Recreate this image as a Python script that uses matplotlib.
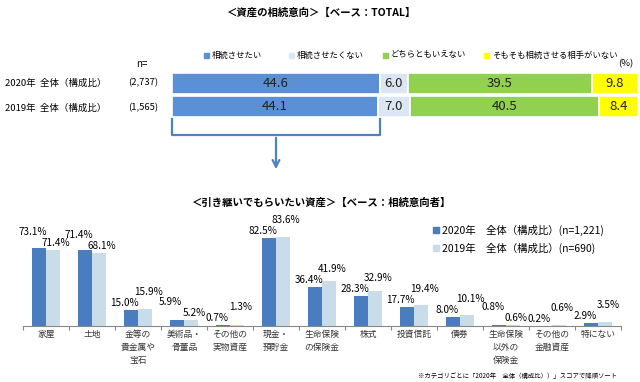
import matplotlib.pyplot as plt
import matplotlib.patches as mpatches
from matplotlib.lines import Line2D
import numpy as np

plt.rcParams['font.family'] = ['Noto Sans CJK JP', 'DejaVu Sans']

# top chart data
rows = ["2020年  全体（構成比）", "2019年  全体（構成比）"]
row_n = ["(2,737)", "(1,565)"]
segments = ["相続させたい", "相続させたくない", "どちらともいえない", "そもそも相続させる相手がいない"]
share_2020 = [44.6, 6.0, 39.5, 9.8]
share_2019 = [44.1, 7.0, 40.5, 8.4]

# bottom chart data
assets = ["家屋", "土地", "金等の\n貴金属や\n宝石", "美術品・\n骨董品", "その他の\n実物資産",
          "現金・\n預貯金", "生命保険\nの保険金", "株式", "投資信託", "債券",
          "生命保険\n以外の\n保険金", "その他の\n金融資産", "特にない"]
want_2020 = [73.1, 71.4, 15.0, 5.9, 0.7, 82.5, 36.4, 28.3, 17.7, 8.0, 0.8, 0.2, 2.9]
want_2019 = [71.4, 68.1, 15.9, 5.2, 1.3, 83.6, 41.9, 32.9, 19.4, 10.1, 0.6, 0.6, 3.5]
series_names = ["2020年　全体（構成比）(n=1,221)", "2019年　全体（構成比）(n=690)"]

seg_colors = ["#5b8fd6", "#dce6f2", "#92d050", "#ffff00"]
dark = "#4a7cc0"
light = "#c8dcea"
arrow_col = "#4f81bd"

W, H = 640, 382
fig = plt.figure(figsize=(W / 100, H / 100), dpi=100)


def fx(x):
    return x / W


def fy(y):
    return 1 - y / H


def px_axes(left, top, right, bottom):
    return fig.add_axes([fx(left), fy(bottom), (right - left) / W, (bottom - top) / H])


# titles
fig.text(fx(322), fy(13), "＜資産の相続意向＞【ベース：TOTAL】", ha='center', va='center',
         fontsize=7.5, fontweight='bold')
fig.text(fx(322), fy(203), "＜引き継いでもらいたい資産＞【ベース：相続意向者】", ha='center', va='center',
         fontsize=7.5, fontweight='bold')

# ---- top stacked bar ----
ax1 = px_axes(172, 72, 638, 118)
all_shares = [share_2020, share_2019]
for r, vals in enumerate(all_shares):
    left = 0
    for k, v in enumerate(vals):
        ax1.barh(r, v, left=left, height=0.87, color=seg_colors[k], edgecolor='white', linewidth=1.2)
        ax1.text(left + v / 2, r, f"{v:.1f}", ha='center', va='center', fontsize=9.5, color='#222222')
        left += v
ax1.set_xlim(0, 100)
ax1.set_ylim(1.5, -0.5)
ax1.axis('off')

for r, (lab, n) in enumerate(zip(rows, row_n)):
    yy = 83 + r * 25
    fig.text(fx(5), fy(yy), lab, ha='left', va='center', fontsize=6.8)
    fig.text(fx(143), fy(yy), n, ha='center', va='center', fontsize=6.8)
fig.text(fx(142), fy(64), "n=", ha='center', va='center', fontsize=7)
fig.text(fx(626), fy(64), "(%)", ha='center', va='center', fontsize=6.8)

# top legend
for k, (name, x0) in enumerate(zip(segments, [207, 292, 386, 487])):
    fig.add_artist(mpatches.Rectangle((fx(x0 - 3), fy(57.5)), 5 / W, 5 / H,
                                      transform=fig.transFigure, color=seg_colors[k]))
    fig.text(fx(x0 + 5), fy(55), name, ha='left', va='center', fontsize=6)

# bracket + arrow
bx = [172, 172, 380, 380]
by = [119, 135, 135, 119]
fig.add_artist(Line2D([fx(v) for v in bx], [fy(v) for v in by], transform=fig.transFigure,
                      color=arrow_col, lw=1.6))
fig.add_artist(mpatches.FancyArrowPatch((fx(276), fy(135)), (fx(276), fy(172)),
                                        transform=fig.transFigure, arrowstyle='->',
                                        mutation_scale=12, color=arrow_col, lw=1.6))

# ---- bottom grouped bar ----
ax2 = px_axes(23, 226, 621, 326)
x = np.arange(len(assets)) + 0.5
bw = 0.315
px_per_pct = 1.07
ax2.bar(x - bw / 2, want_2020, width=bw, color=dark)
ax2.bar(x + bw / 2, want_2019, width=bw, color=light)
ax2.set_xlim(0, len(assets))
ax2.set_ylim(0, 100 / px_per_pct)

# value labels: the taller bar's label gets lifted so the pair doesn't collide
for xi, a, b in zip(x, want_2020, want_2019):
    ya = a * px_per_pct + 7
    yb = b * px_per_pct + 7
    if abs(ya - yb) < 11:
        if a >= b:
            ya = yb + 11
        else:
            yb = ya + 11
    ax2.annotate(f"{a:.1f}%", (xi - bw / 2, 0), xytext=(-6, ya), textcoords='offset pixels',
                 ha='center', va='center', fontsize=7.2)
    ax2.annotate(f"{b:.1f}%", (xi + bw / 2, 0), xytext=(3, yb), textcoords='offset pixels',
                 ha='center', va='center', fontsize=7.2)

for s in ['top', 'right', 'left']:
    ax2.spines[s].set_visible(False)
ax2.spines['bottom'].set_color('#888888')
ax2.set_yticks([])
ax2.set_xticks(np.arange(len(assets) + 1))
ax2.set_xticklabels([])
ax2.tick_params(axis='x', direction='out', length=3, color='#888888')
for xi, lab in zip(x, assets):
    ax2.annotate(lab, (xi, 0), xytext=(0, -4), textcoords='offset pixels', ha='center', va='top',
                 fontsize=6.3, linespacing=1.55, color='#333333')

# bottom legend
for k, (name, col) in enumerate(zip(series_names, [dark, light])):
    yy = 230 + k * 18
    fig.add_artist(mpatches.Rectangle((fx(433), fy(yy + 3)), 6 / W, 6 / H,
                                      transform=fig.transFigure, color=col))
    fig.text(fx(442), fy(yy), name, ha='left', va='center', fontsize=7.5)

fig.text(fx(617), fy(376), "※カテゴリごとに「2020年　全体（構成比））」スコアで降順ソート",
         ha='right', va='center', fontsize=4.6)

fig.savefig("out.png", dpi=100)
